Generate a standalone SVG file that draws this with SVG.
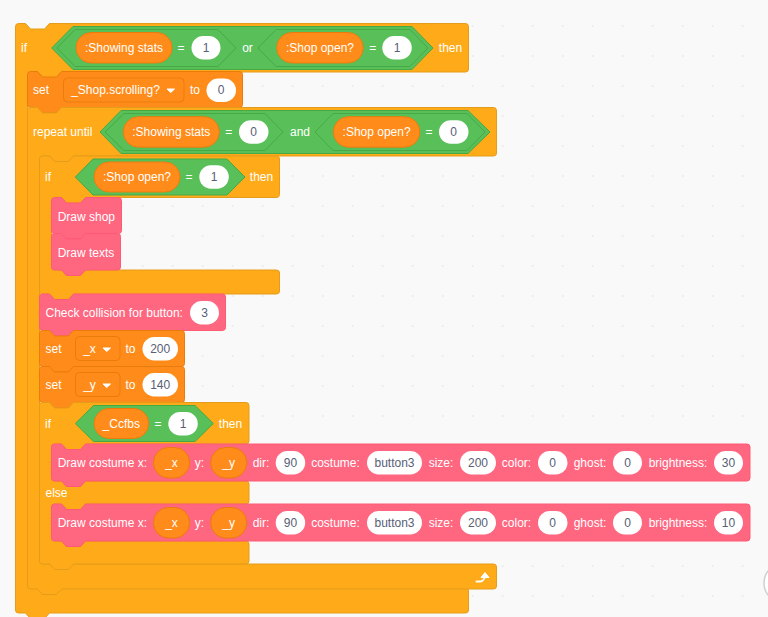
<svg xmlns="http://www.w3.org/2000/svg" width="768" height="617" viewBox="0 0 768 617">
<style>
text{font-family:"Liberation Sans",Arial,sans-serif;font-size:12px;fill:#fff}
.m{text-anchor:middle}
.v{text-anchor:middle;fill:#575e75}
.ctl{fill:#ffab19;stroke:#e59c1a;stroke-width:1}
.var{fill:#ff8c1a;stroke:#ea7c0c;stroke-width:1}
.cus{fill:#ff6680;stroke:#ff5a75;stroke-width:1}
.op{fill:#59c059;stroke:#46a946;stroke-width:1}
.in{fill:#fff}
.arr{fill:#fff;stroke:#fff;stroke-width:1;stroke-linejoin:round}
</style>
<defs>
<pattern id="dots" width="30" height="30" patternUnits="userSpaceOnUse" patternTransform="translate(7.7 11)"><circle cx="15" cy="15" r="0.8" fill="#dcdcdc"/></pattern>
</defs>
<rect width="768" height="617" fill="#f9f9f9"/>
<rect width="768" height="617" fill="url(#dots)"/>
<circle cx="784" cy="583" r="20" fill="#fff" stroke="#cfcfcf" stroke-width="1.5"/>

<g id="if-outer">
<path class="ctl" d="M15.5,26.5Q15.5,23.5 18.5,23.5H25.5L30.5,29H44.5L49.5,23.5H465.5Q468.5,23.5 468.5,26.5V69Q468.5,72 465.5,72H61.5L56.5,77.5H42.5L37.5,72H30.5Q27.5,72 27.5,75V585Q27.5,588 30.5,588H465.5Q468.5,588 468.5,591V610Q468.5,613 465.5,613H49.5L44.5,618.5H30.5L25.5,613H18.5Q15.5,613 15.5,610Z"/>
<text x="21" y="52">if</text>
<path class="op" d="M51.7,48L73,26.5H412L433,48L412,69.5H73Z"/>
<path class="op" d="M57,48L75,29.5H218L236,48L218,66.5H75Z"/>
<rect class="var" x="76" y="32.5" width="96" height="30.5" rx="15.2"/>
<text class="m" x="124" y="52">:Showing stats</text>
<text class="m" x="181" y="52">=</text>
<rect class="in" x="191.5" y="36" width="29" height="23.5" rx="11.7"/>
<text class="v" x="206" y="52">1</text>
<text class="m" x="247.5" y="52">or</text>
<path class="op" d="M258,48L276,29.5H410L428,48L410,66.5H276Z"/>
<rect class="var" x="276.7" y="32.5" width="86.5" height="30.5" rx="15.2"/>
<text class="m" x="320" y="52">:Shop open?</text>
<text class="m" x="372.7" y="52">=</text>
<rect class="in" x="382.3" y="36" width="29.5" height="23.5" rx="11.7"/>
<text class="v" x="397" y="52">1</text>
<text class="m" x="450.5" y="52">then</text>
</g>

<g id="set-scrolling">
<path class="var" d="M27.5,74.5Q27.5,71.5 30.5,71.5H37.5L42.5,77H56.5L61.5,71.5H239.5Q242.5,71.5 242.5,74.5V104.5Q242.5,107.5 239.5,107.5H61.5L56.5,113H42.5L37.5,107.5H30.5Q27.5,107.5 27.5,104.5Z"/>
<text x="33" y="94">set</text>
<rect class="var" x="63.5" y="78" width="120.5" height="24" rx="4"/>
<text class="m" x="115.5" y="94">_Shop.scrolling?</text>
<path class="arr" d="M167,89H174.5L170.7,92.5Z"/>
<text class="m" x="195" y="94">to</text>
<rect class="in" x="206.5" y="78.5" width="29.5" height="23.5" rx="11.7"/>
<text class="v" x="221" y="94">0</text>
</g>

<g id="repeat-until">
<path class="ctl" d="M27.5,110.5Q27.5,107.5 30.5,107.5H37.5L42.5,113H56.5L61.5,107.5H493.5Q496.5,107.5 496.5,110.5V153Q496.5,156 493.5,156H73.5L68.5,161.5H54.5L49.5,156H42.5Q39.5,156 39.5,159V561Q39.5,564 42.5,564H493.5Q496.5,564 496.5,567V586Q496.5,589 493.5,589H61.5L56.5,594.5H42.5L37.5,589H30.5Q27.5,589 27.5,586Z"/>
<text x="33" y="136">repeat until</text>
<path class="op" d="M100,132L121,110.5H468L490,132L468,153.5H121Z"/>
<path class="op" d="M105,132L124,113.5H265L283,132L265,150.5H124Z"/>
<rect class="var" x="123.3" y="116.7" width="96" height="30.5" rx="15.2"/>
<text class="m" x="171.3" y="136">:Showing stats</text>
<text class="m" x="228.7" y="136">=</text>
<rect class="in" x="239" y="120.2" width="29.5" height="23.5" rx="11.7"/>
<text class="v" x="253.7" y="136">0</text>
<text class="m" x="300" y="136">and</text>
<path class="op" d="M315,132L333,113.5H467L485,132L467,150.5H333Z"/>
<rect class="var" x="333.3" y="116.7" width="86.5" height="30.5" rx="15.2"/>
<text class="m" x="376.6" y="136">:Shop open?</text>
<text class="m" x="429" y="136">=</text>
<rect class="in" x="439" y="120.2" width="29.5" height="23.5" rx="11.7"/>
<text class="v" x="453.7" y="136">0</text>
<path d="M476.5,581.5C481,582 484.5,581 485,576" fill="none" stroke="#fff" stroke-width="2" stroke-linecap="round"/>
<path class="arr" d="M481,577.5L485,572.5L489,577.5Z"/>
</g>

<g id="if-shop-open">
<path class="ctl" d="M39.5,159Q39.5,156 42.5,156H49.5L54.5,161.5H68.5L73.5,156H276.5Q279.5,156 279.5,159V194.5Q279.5,197.5 276.5,197.5H85.5L80.5,203H66.5L61.5,197.5H54.5Q51.5,197.5 51.5,200.5V267Q51.5,270 54.5,270H276.5Q279.5,270 279.5,273V291Q279.5,294 276.5,294H73.5L68.5,299.5H54.5L49.5,294H42.5Q39.5,294 39.5,291Z"/>
<text x="45" y="181">if</text>
<path class="op" d="M75.3,177L93,159H227L245,177L227,195H93Z"/>
<rect class="var" x="94" y="162" width="86" height="30" rx="15"/>
<text class="m" x="137" y="181">:Shop open?</text>
<text class="m" x="189" y="181">=</text>
<rect class="in" x="199.3" y="165.2" width="29.5" height="23.5" rx="11.7"/>
<text class="v" x="214" y="181">1</text>
<text class="m" x="261.5" y="181">then</text>
</g>

<g id="draw-shop">
<path class="cus" d="M51.5,200.5Q51.5,197.5 54.5,197.5H61.5L66.5,203H80.5L85.5,197.5H118.5Q121.5,197.5 121.5,200.5V230.5Q121.5,233.5 118.5,233.5H85.5L80.5,239H66.5L61.5,233.5H54.5Q51.5,233.5 51.5,230.5Z"/>
<text x="57.7" y="220.5">Draw shop</text>
</g>
<g id="draw-texts">
<path class="cus" d="M51.5,236.5Q51.5,233.5 54.5,233.5H61.5L66.5,239H80.5L85.5,233.5H117.5Q120.5,233.5 120.5,236.5V267Q120.5,270 117.5,270H85.5L80.5,275.5H66.5L61.5,270H54.5Q51.5,270 51.5,267Z"/>
<text x="57.7" y="256.5">Draw texts</text>
</g>

<g id="check-collision">
<path class="cus" d="M39.5,297Q39.5,294 42.5,294H49.5L54.5,299.5H68.5L73.5,294H222.5Q225.5,294 225.5,297V327.5Q225.5,330.5 222.5,330.5H73.5L68.5,336H54.5L49.5,330.5H42.5Q39.5,330.5 39.5,327.5Z"/>
<text x="45.5" y="317">Check collision for button:</text>
<rect class="in" x="190" y="301" width="29" height="23.5" rx="11.7"/>
<text class="v" x="204.5" y="317">3</text>
</g>

<g id="set-x">
<path class="var" d="M39.5,333.5Q39.5,330.5 42.5,330.5H49.5L54.5,336H68.5L73.5,330.5H181.5Q184.5,330.5 184.5,333.5V363.5Q184.5,366.5 181.5,366.5H73.5L68.5,372H54.5L49.5,366.5H42.5Q39.5,366.5 39.5,363.5Z"/>
<text x="45.5" y="353">set</text>
<rect class="var" x="75.5" y="336.5" width="44.5" height="24" rx="4"/>
<text class="m" x="89.5" y="353">_x</text>
<path class="arr" d="M103,348H110.5L106.7,351.5Z"/>
<text class="m" x="130.5" y="353">to</text>
<rect class="in" x="142.5" y="337" width="35.5" height="23.5" rx="11.7"/>
<text class="v" x="160.2" y="353">200</text>
</g>
<g id="set-y">
<path class="var" d="M39.5,369.5Q39.5,366.5 42.5,366.5H49.5L54.5,372H68.5L73.5,366.5H181.5Q184.5,366.5 184.5,369.5V399.5Q184.5,402.5 181.5,402.5H73.5L68.5,408H54.5L49.5,402.5H42.5Q39.5,402.5 39.5,399.5Z"/>
<text x="45.5" y="389">set</text>
<rect class="var" x="75.5" y="372.5" width="44.5" height="24" rx="4"/>
<text class="m" x="89.5" y="389">_y</text>
<path class="arr" d="M103,384H110.5L106.7,387.5Z"/>
<text class="m" x="130.5" y="389">to</text>
<rect class="in" x="142.5" y="373" width="35.5" height="23.5" rx="11.7"/>
<text class="v" x="160.2" y="389">140</text>
</g>

<g id="if-ccfbs">
<path class="ctl" d="M39.5,405.5Q39.5,402.5 42.5,402.5H49.5L54.5,408H68.5L73.5,402.5H246Q249,402.5 249,405.5V441Q249,444 246,444H85.5L80.5,449.5H66.5L61.5,444H54.5Q51.5,444 51.5,447V478Q51.5,481 54.5,481H246Q249,481 249,484V501Q249,504 246,504H85.5L80.5,509.5H66.5L61.5,504H54.5Q51.5,504 51.5,507V538Q51.5,541 54.5,541H246Q249,541 249,544V561Q249,564 246,564H73.5L68.5,569.5H54.5L49.5,564H42.5Q39.5,564 39.5,561Z"/>
<text x="45" y="428">if</text>
<path class="op" d="M75.3,423.5L93.5,405.5H195L213.3,423.5L195,441.5H93.5Z"/>
<rect class="var" x="94" y="408.5" width="54.7" height="30" rx="15"/>
<text class="m" x="121.3" y="428">_Ccfbs</text>
<text class="m" x="158" y="428">=</text>
<rect class="in" x="168.3" y="412" width="29.5" height="23.5" rx="11.7"/>
<text class="v" x="183" y="428">1</text>
<text class="m" x="230.5" y="428">then</text>
<text x="45.5" y="497">else</text>
</g>

<g id="draw-costume-1">
<path class="cus" d="M51.5,447Q51.5,444 54.5,444H61.5L66.5,449.5H80.5L85.5,444H747Q750,444 750,447V478Q750,481 747,481H85.5L80.5,486.5H66.5L61.5,481H54.5Q51.5,481 51.5,478Z"/>
<text x="57.7" y="467">Draw costume x:</text>
<rect class="var" x="153.5" y="447.5" width="36" height="30.5" rx="15"/>
<text class="m" x="171.5" y="467">_x</text>
<text class="m" x="199.5" y="467">y:</text>
<rect class="var" x="210.7" y="447.5" width="36" height="30.5" rx="15"/>
<text class="m" x="228.7" y="467">_y</text>
<text class="m" x="261" y="467">dir:</text>
<rect class="in" x="275.7" y="451" width="29.5" height="23.5" rx="11.7"/>
<text class="v" x="290.5" y="467">90</text>
<text class="m" x="335.5" y="467">costume:</text>
<rect class="in" x="367" y="451" width="55" height="23.5" rx="11.7"/>
<text class="v" x="394.5" y="467">button3</text>
<text class="m" x="441" y="467">size:</text>
<rect class="in" x="460" y="451" width="36" height="23.5" rx="11.7"/>
<text class="v" x="478" y="467">200</text>
<text class="m" x="516.5" y="467">color:</text>
<rect class="in" x="538" y="451" width="29.5" height="23.5" rx="11.7"/>
<text class="v" x="552.7" y="467">0</text>
<text class="m" x="590" y="467">ghost:</text>
<rect class="in" x="613" y="451" width="29" height="23.5" rx="11.7"/>
<text class="v" x="627.5" y="467">0</text>
<text class="m" x="678" y="467">brightness:</text>
<rect class="in" x="714" y="451" width="29" height="23.5" rx="11.7"/>
<text class="v" x="728.5" y="467">30</text>
</g>

<g id="draw-costume-2">
<path class="cus" d="M51.5,507Q51.5,504 54.5,504H61.5L66.5,509.5H80.5L85.5,504H747Q750,504 750,507V538Q750,541 747,541H85.5L80.5,546.5H66.5L61.5,541H54.5Q51.5,541 51.5,538Z"/>
<text x="57.7" y="527">Draw costume x:</text>
<rect class="var" x="153.5" y="507.5" width="36" height="30.5" rx="15"/>
<text class="m" x="171.5" y="527">_x</text>
<text class="m" x="199.5" y="527">y:</text>
<rect class="var" x="210.7" y="507.5" width="36" height="30.5" rx="15"/>
<text class="m" x="228.7" y="527">_y</text>
<text class="m" x="261" y="527">dir:</text>
<rect class="in" x="275.7" y="511" width="29.5" height="23.5" rx="11.7"/>
<text class="v" x="290.5" y="527">90</text>
<text class="m" x="335.5" y="527">costume:</text>
<rect class="in" x="367" y="511" width="55" height="23.5" rx="11.7"/>
<text class="v" x="394.5" y="527">button3</text>
<text class="m" x="441" y="527">size:</text>
<rect class="in" x="460" y="511" width="36" height="23.5" rx="11.7"/>
<text class="v" x="478" y="527">200</text>
<text class="m" x="516.5" y="527">color:</text>
<rect class="in" x="538" y="511" width="29.5" height="23.5" rx="11.7"/>
<text class="v" x="552.7" y="527">0</text>
<text class="m" x="590" y="527">ghost:</text>
<rect class="in" x="613" y="511" width="29" height="23.5" rx="11.7"/>
<text class="v" x="627.5" y="527">0</text>
<text class="m" x="678" y="527">brightness:</text>
<rect class="in" x="714" y="511" width="29" height="23.5" rx="11.7"/>
<text class="v" x="728.5" y="527">10</text>
</g>
</svg>
